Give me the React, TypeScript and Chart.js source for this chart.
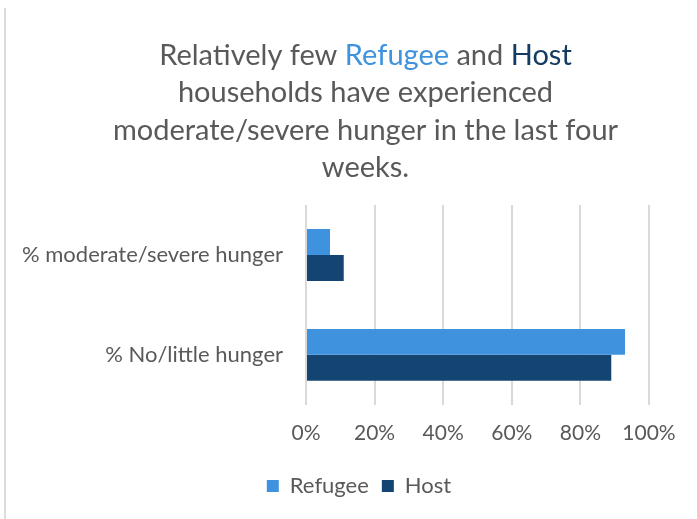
import React, { useEffect, useRef } from 'react';
import { Chart, registerables } from 'chart.js';

Chart.register(...registerables);

const categories = ['% moderate/severe hunger', '% No/little hunger'];
const refugeeValues = [7, 93];
const hostValues = [11, 89];
const seriesNames = ['Refugee', 'Host'];
const xTickStep = 20;
const xMax = 100;

const GRAY = '#595959';
const BLUE = '#3F92DE';
const NAVY = '#134472';
const TITLE_NAVY = '#153B63';
const GRID = '#D9D9D9';
const FONT = 'Lato, "Open Sans", sans-serif';

const titleLines: { text: string; color: string }[][] = [
  [
    { text: 'Relatively few ', color: GRAY },
    { text: 'Refugee', color: BLUE },
    { text: ' and ', color: GRAY },
    { text: 'Host', color: TITLE_NAVY },
  ],
  [{ text: 'households have experienced', color: GRAY }],
  [{ text: 'moderate/severe hunger in the last four', color: GRAY }],
  [{ text: 'weeks.', color: GRAY }],
];

const titlePlugin = {
  id: 'richTitle',
  afterLayout(chart: any) {
    const l = chart.legend;
    if (l) {
      const d = 359 - (l.left + l.right) / 2;
      l.left += d;
      l.right += d;
    }
  },
  afterDraw(chart: any) {
    const ctx = chart.ctx;
    ctx.save();
    ctx.font = `29px ${FONT}`;
    ctx.textBaseline = 'alphabetic';
    ctx.textAlign = 'left';
    const cx = 365.5;
    titleLines.forEach((line, i) => {
      const total = line.reduce((s, seg) => s + ctx.measureText(seg.text).width, 0);
      let x = cx - total / 2;
      const y = 65 + i * 37.4;
      line.forEach((seg) => {
        ctx.fillStyle = seg.color;
        ctx.fillText(seg.text, x, y);
        x += ctx.measureText(seg.text).width;
      });
    });
    ctx.restore();
  },
};

export default function App() {
  const ref = useRef<HTMLCanvasElement>(null);
  useEffect(() => {
    if (!ref.current) return;
    const chart = new Chart(ref.current, {
      type: 'bar',
      data: {
        labels: categories,
        datasets: [
          { label: seriesNames[0], data: refugeeValues, backgroundColor: BLUE, borderWidth: 0 },
          { label: seriesNames[1], data: hostValues, backgroundColor: NAVY, borderWidth: 0 },
        ],
      },
      options: {
        indexAxis: 'y',
        responsive: false,
        animation: false,
        layout: { padding: { top: 205, left: 0, right: 48, bottom: 12 } },
        datasets: { bar: { categoryPercentage: 0.52, barPercentage: 1 } },
        plugins: {
          title: { display: false },
          tooltip: { enabled: false },
          legend: {
            position: 'bottom',
            labels: {
              boxWidth: 12,
              boxHeight: 12,
              padding: 13,
              color: GRAY,
              font: { family: FONT, size: 22 },
            },
          },
        },
        scales: {
          x: {
            type: 'linear',
            min: 0,
            max: xMax,
            ticks: {
              stepSize: xTickStep,
              callback: (v: any) => `${v}%`,
              color: GRAY,
              font: { family: FONT, size: 21 },
              padding: 16,
            },
            grid: { color: GRID, lineWidth: 2, drawTicks: false },
            border: { display: false },
          },
          y: {
            ticks: {
              color: GRAY,
              font: { family: FONT, size: 22 },
              padding: 23,
            },
            grid: { display: false, drawTicks: false },
            border: { display: false },
            afterFit: (scale: any) => {
              scale.width = 306;
            },
          },
        },
      },
      plugins: [titlePlugin],
    });
    return () => chart.destroy();
  }, []);

  return (
    <div style={{ position: 'absolute', left: 0, top: 0, width: 697, height: 519, background: '#fff' }}>
      <div style={{ position: 'absolute', left: 4, top: 8, width: 2, height: 511, background: '#DCDCDC' }} />
      <canvas ref={ref} width={697} height={519} style={{ position: 'absolute', left: 0, top: 0 }} />
    </div>
  );
}
